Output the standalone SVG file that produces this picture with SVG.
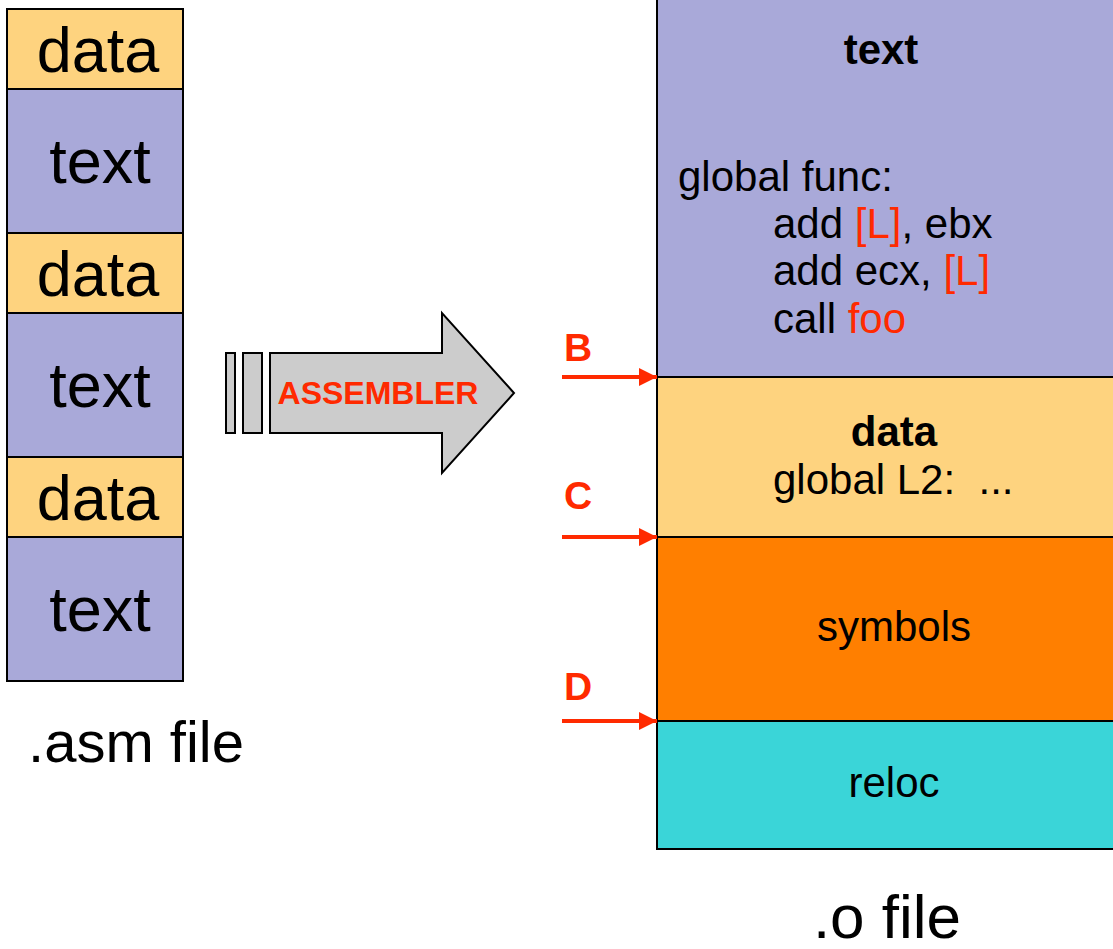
<svg xmlns="http://www.w3.org/2000/svg" width="1113" height="949" viewBox="0 0 1113 949">
<defs>
<style>
.txt{fill:#A9A9D9;stroke:#000;stroke-width:2}
.dat{fill:#FED37F;stroke:#000;stroke-width:2}
.sym{fill:#FF7F00;stroke:#000;stroke-width:2}
.rel{fill:#3AD5D8;stroke:#000;stroke-width:2}
.big{font-family:"Liberation Sans",Arial,sans-serif;font-size:63px;fill:#000}
.mid{font-family:"Liberation Sans",Arial,sans-serif;font-size:42px;fill:#000}
.bold{font-weight:bold}
.red{fill:#FF2A00}
.lbl{font-family:"Liberation Sans",Arial,sans-serif;font-size:39px;font-weight:bold;fill:#FF2A00}
.conn{stroke:#FF2A00;stroke-width:4;fill:none}
</style>
<marker id="ah2" viewBox="0 0 18 18" refX="18" refY="9" markerWidth="18" markerHeight="18" markerUnits="userSpaceOnUse" orient="auto">
<path d="M0,0 L18,9 L0,18 z" fill="#FF2A00"/>
</marker>
</defs>
<rect width="1113" height="949" fill="#fff"/>

<g id="asm-file">
<rect class="dat" x="7" y="9" width="176" height="80"/>
<text class="big" x="98" y="72" text-anchor="middle">data</text>
<rect class="txt" x="7" y="89" width="176" height="144"/>
<text class="big" x="100" y="183" text-anchor="middle">text</text>
<rect class="dat" x="7" y="233" width="176" height="80"/>
<text class="big" x="98" y="296" text-anchor="middle">data</text>
<rect class="txt" x="7" y="313" width="176" height="144"/>
<text class="big" x="100" y="407" text-anchor="middle">text</text>
<rect class="dat" x="7" y="457" width="176" height="80"/>
<text class="big" x="98" y="520" text-anchor="middle">data</text>
<rect class="txt" x="7" y="537" width="176" height="144"/>
<text class="big" x="100" y="631" text-anchor="middle">text</text>
<text class="big" x="136" y="762" text-anchor="middle" style="font-size:58px">.asm file</text>
</g>

<g id="assembler">
<rect x="226" y="353" width="9" height="80" fill="#CCCCCC" stroke="#000" stroke-width="2"/>
<rect x="243" y="353" width="19" height="80" fill="#CCCCCC" stroke="#000" stroke-width="2"/>
<path d="M270,353 L442,353 L442,313 L514,393 L442,473 L442,433 L270,433 Z" fill="#CCCCCC" stroke="#000" stroke-width="2" stroke-linejoin="miter"/>
<text x="378" y="404" text-anchor="middle" font-family="'Liberation Sans',Arial,sans-serif" font-size="32" font-weight="bold" fill="#FF2A00">ASSEMBLER</text>
</g>

<g id="o-text">
<rect class="txt" x="657" y="-5" width="470" height="382"/>
<text class="mid bold" x="881" y="64" text-anchor="middle">text</text>
<text class="mid" x="678" y="191">global func:</text>
<text class="mid" x="773" y="238">add <tspan class="red">[L]</tspan>, ebx</text>
<text class="mid" x="773" y="285">add ecx, <tspan class="red">[L]</tspan></text>
<text class="mid" x="773" y="333">call <tspan class="red">foo</tspan></text>
</g>
<g id="o-data">
<rect class="dat" x="657" y="377" width="470" height="160"/>
<text class="mid bold" x="894" y="446" text-anchor="middle">data</text>
<text class="mid" x="773" y="494" xml:space="preserve">global L2:  ...</text>
</g>
<g id="o-symbols">
<rect class="sym" x="657" y="537" width="470" height="184"/>
<text class="mid" x="894" y="641" text-anchor="middle">symbols</text>
</g>
<g id="o-reloc">
<rect class="rel" x="657" y="721" width="470" height="128"/>
<text class="mid" x="894" y="797" text-anchor="middle">reloc</text>
</g>
<text class="big" x="887" y="938" text-anchor="middle" style="font-size:62px">.o file</text>

<g id="labels">
<text class="lbl" x="578" y="361" text-anchor="middle">B</text>
<text class="lbl" x="578" y="509" text-anchor="middle">C</text>
<text class="lbl" x="578" y="700" text-anchor="middle">D</text>
</g>

<g id="connectors">
<line class="conn" x1="562" y1="-9" x2="657" y2="-9" marker-end="url(#ah2)"/>
<line class="conn" x1="562" y1="377" x2="657" y2="377" marker-end="url(#ah2)"/>
<line class="conn" x1="562" y1="537" x2="657" y2="537" marker-end="url(#ah2)"/>
<line class="conn" x1="562" y1="721" x2="657" y2="721" marker-end="url(#ah2)"/>
</g>
</svg>
